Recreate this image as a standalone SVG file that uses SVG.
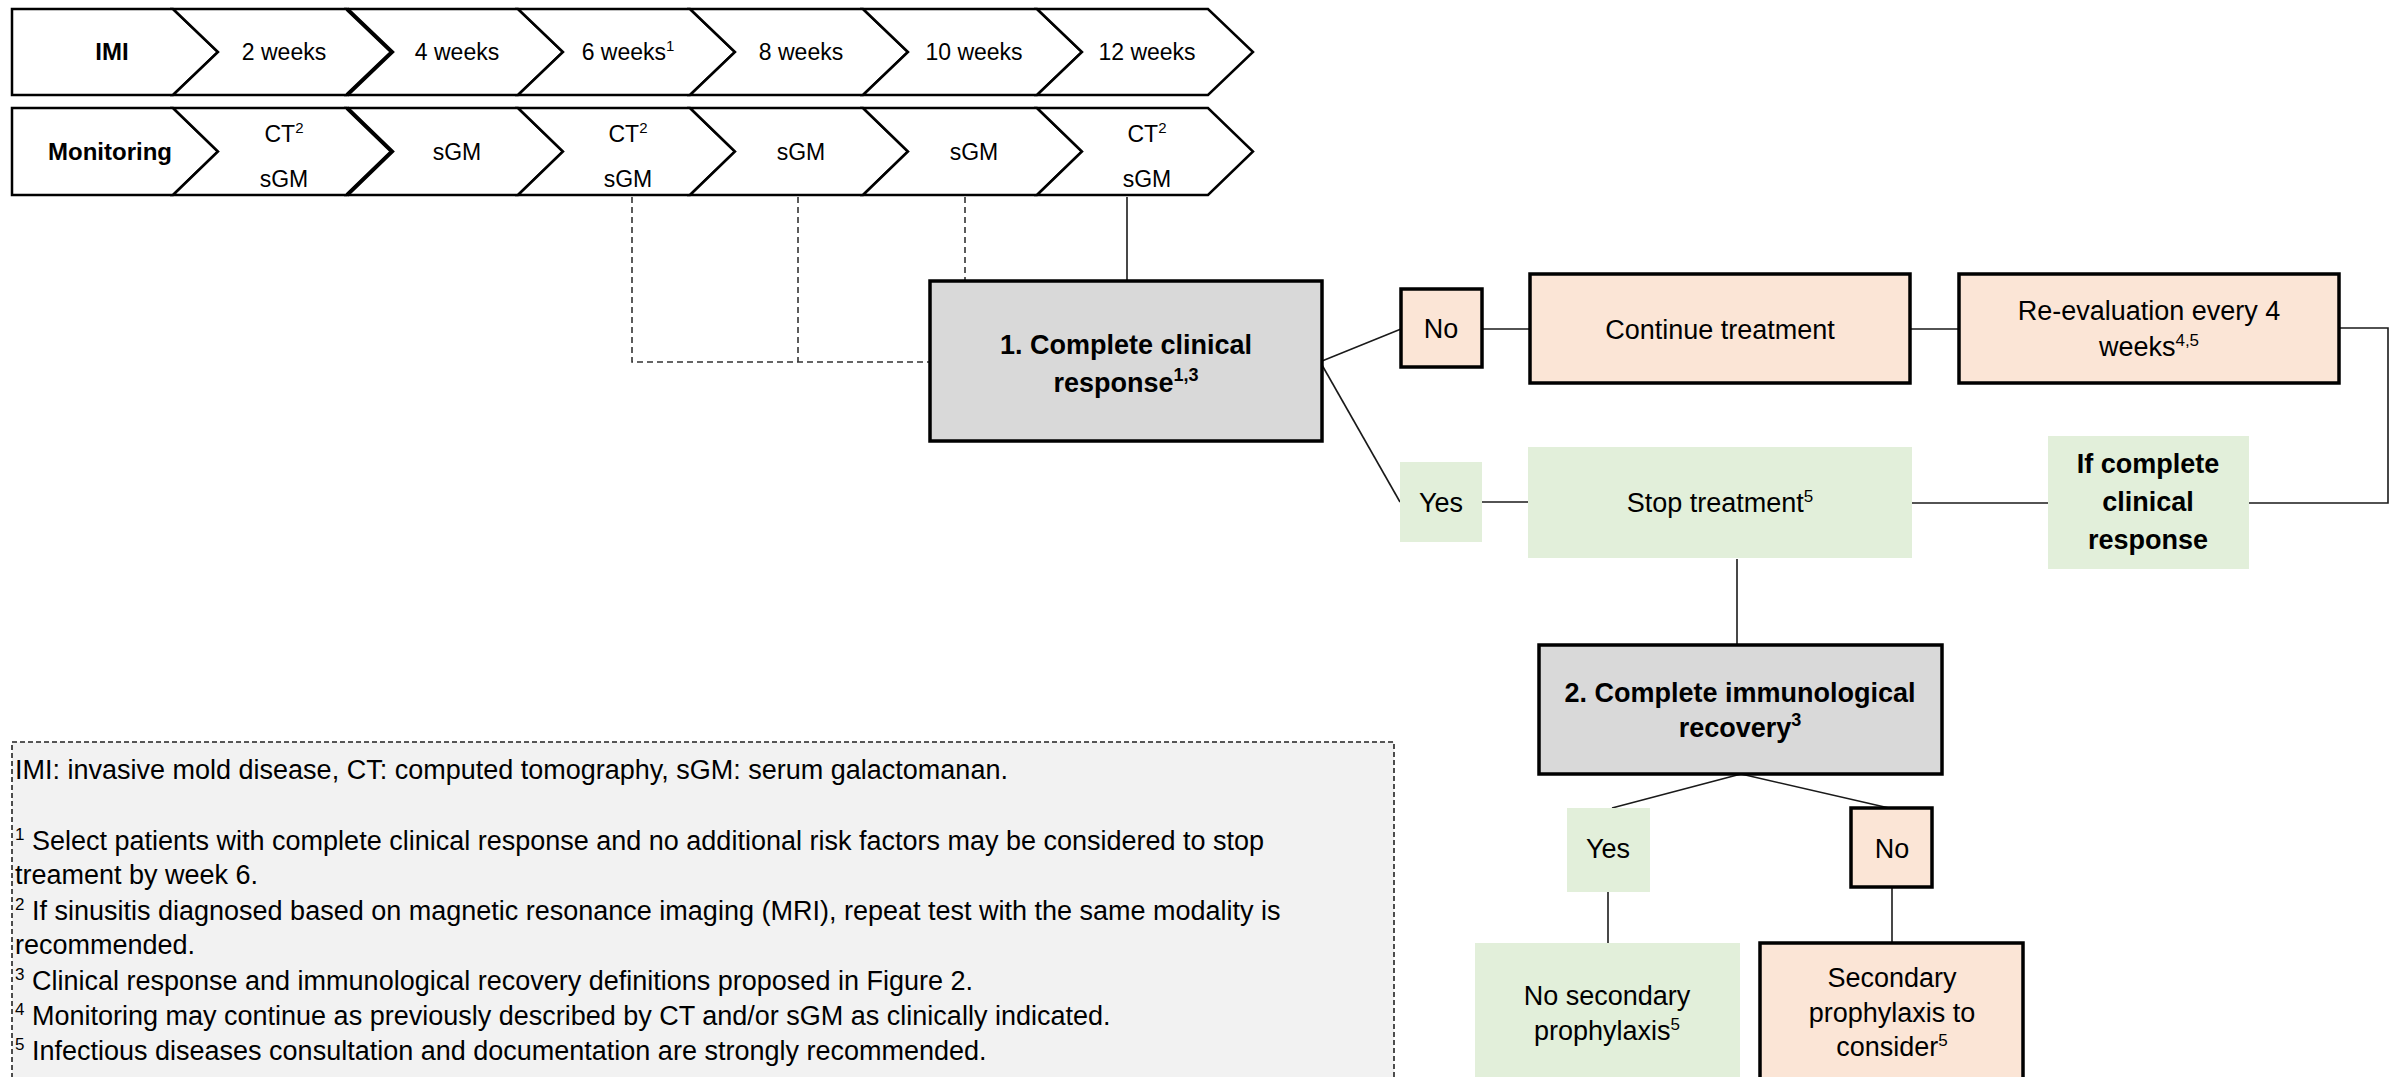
<svg xmlns="http://www.w3.org/2000/svg" width="2394" height="1077" viewBox="0 0 2394 1077">
<style>
text{font-family:"Liberation Sans",Arial,sans-serif;fill:#000;text-anchor:middle}
.chev{fill:#fff;stroke:#000;stroke-width:2.5;stroke-linejoin:miter}
.tl{font-size:23px}
.tb{font-size:24px;font-weight:bold}
.n{font-size:27px}
.nb{font-size:27px;font-weight:bold}
.fn{font-size:27px;text-anchor:start}
.gray{fill:#d9d9d9;stroke:#000;stroke-width:3.5}
.sal{fill:#fbe5d6;stroke:#000;stroke-width:3.5}
.grn{fill:#e2efda}
.con{fill:none;stroke:#1a1a1a;stroke-width:1.6}
.dash{fill:none;stroke:#333;stroke-width:1.6;stroke-dasharray:6 4}
</style>

<g id="timeline-imi">
<path class="chev" d="M12,9 L173,9 L218,52 L173,95 L12,95 Z"/>
<path class="chev" d="M173,9 L347,9 L392,52 L347,95 L173,95 L218,52 Z"/>
<path class="chev" d="M347,9 L518,9 L563,52 L518,95 L347,95 L392,52 Z"/>
<path class="chev" d="M518,9 L690,9 L735,52 L690,95 L518,95 L563,52 Z"/>
<path class="chev" d="M690,9 L863,9 L908,52 L863,95 L690,95 L735,52 Z"/>
<path class="chev" d="M863,9 L1037,9 L1082,52 L1037,95 L863,95 L908,52 Z"/>
<path class="chev" d="M1037,9 L1208,9 L1253,52 L1208,95 L1037,95 L1082,52 Z"/>
<polyline points="347,9 392,52 347,95" fill="none" stroke="#000" stroke-width="4"/>
<text class="tb" x="112" y="60">IMI</text>
<text class="tl" x="284" y="60">2 weeks</text>
<text class="tl" x="457" y="60">4 weeks</text>
<text class="tl" x="628" y="60">6 weeks<tspan font-size="15" dy="-9">1</tspan></text>
<text class="tl" x="801" y="60">8 weeks</text>
<text class="tl" x="974" y="60">10 weeks</text>
<text class="tl" x="1147" y="60">12 weeks</text>
</g>

<g id="timeline-monitoring">
<path class="chev" d="M12,108 L173,108 L218,151.5 L173,195 L12,195 Z"/>
<path class="chev" d="M173,108 L347,108 L392,151.5 L347,195 L173,195 L218,151.5 Z"/>
<path class="chev" d="M347,108 L518,108 L563,151.5 L518,195 L347,195 L392,151.5 Z"/>
<path class="chev" d="M518,108 L690,108 L735,151.5 L690,195 L518,195 L563,151.5 Z"/>
<path class="chev" d="M690,108 L863,108 L908,151.5 L863,195 L690,195 L735,151.5 Z"/>
<path class="chev" d="M863,108 L1037,108 L1082,151.5 L1037,195 L863,195 L908,151.5 Z"/>
<path class="chev" d="M1037,108 L1208,108 L1253,151.5 L1208,195 L1037,195 L1082,151.5 Z"/>
<polyline points="347,108 392,151.5 347,195" fill="none" stroke="#000" stroke-width="4"/>
<text class="tb" x="110" y="160">Monitoring</text>
<text class="tl" x="284" y="142">CT<tspan font-size="15" dy="-9">2</tspan></text>
<text class="tl" x="284" y="187">sGM</text>
<text class="tl" x="457" y="160">sGM</text>
<text class="tl" x="628" y="142">CT<tspan font-size="15" dy="-9">2</tspan></text>
<text class="tl" x="628" y="187">sGM</text>
<text class="tl" x="801" y="160">sGM</text>
<text class="tl" x="974" y="160">sGM</text>
<text class="tl" x="1147" y="142">CT<tspan font-size="15" dy="-9">2</tspan></text>
<text class="tl" x="1147" y="187">sGM</text>
</g>

<g id="connectors">
<path class="dash" d="M632,197 V362 H930"/>
<path class="dash" d="M798,197 V362"/>
<path class="dash" d="M965,197 V281"/>
<path class="con" d="M1127,197 V281"/>
<path class="con" d="M1322,361 L1401,329"/>
<path class="con" d="M1322,365 L1400,502"/>
<path class="con" d="M1482,329 H1530"/>
<path class="con" d="M1910,329 H1959"/>
<path class="con" d="M2339,328 H2388 V503 H2249"/>
<path class="con" d="M1482,502 H1528"/>
<path class="con" d="M1910,503 H2048"/>
<path class="con" d="M1737,559 V645"/>
<path class="con" d="M1741,774 L1612,808"/>
<path class="con" d="M1741,774 L1889,808"/>
<path class="con" d="M1608,892 V943"/>
<path class="con" d="M1892,887 V943"/>
</g>

<g id="clinical-response">
<rect class="gray" x="930" y="281" width="392" height="160"/>
<text class="nb" x="1126" y="354">1. Complete clinical</text>
<text class="nb" x="1126" y="392">response<tspan font-size="18" dy="-11">1,3</tspan></text>
</g>

<g id="no-1">
<rect class="sal" x="1401" y="289" width="81" height="78"/>
<text class="n" x="1441" y="338">No</text>
</g>

<g id="yes-1">
<rect class="grn" x="1400" y="462" width="82" height="80"/>
<text class="n" x="1441" y="512">Yes</text>
</g>

<g id="continue-treatment">
<rect class="sal" x="1530" y="274" width="380" height="109"/>
<text class="n" x="1720" y="339">Continue treatment</text>
</g>

<g id="re-evaluation">
<rect class="sal" x="1959" y="274" width="380" height="109"/>
<text class="n" x="2149" y="320">Re-evaluation every 4</text>
<text class="n" x="2149" y="356">weeks<tspan font-size="17" dy="-10">4,5</tspan></text>
</g>

<g id="stop-treatment">
<rect class="grn" x="1528" y="447" width="384" height="111"/>
<text class="n" x="1720" y="512">Stop treatment<tspan font-size="17" dy="-10">5</tspan></text>
</g>

<g id="if-complete">
<rect class="grn" x="2048" y="436" width="201" height="133"/>
<text class="nb" x="2148" y="473" font-size="28">If complete</text>
<text class="nb" x="2148" y="511" font-size="28">clinical</text>
<text class="nb" x="2148" y="549" font-size="28">response</text>
</g>

<g id="immunological-recovery">
<rect class="gray" x="1539" y="645" width="403" height="129"/>
<text class="nb" x="1740" y="702" font-size="27.5">2. Complete immunological</text>
<text class="nb" x="1740" y="737" font-size="27.5">recovery<tspan font-size="18" dy="-11">3</tspan></text>
</g>

<g id="yes-2">
<rect class="grn" x="1567" y="808" width="83" height="84"/>
<text class="n" x="1608" y="858">Yes</text>
</g>

<g id="no-2">
<rect class="sal" x="1851" y="808" width="81" height="79"/>
<text class="n" x="1892" y="858">No</text>
</g>

<g id="no-secondary">
<rect class="grn" x="1475" y="943" width="265" height="150"/>
<text class="n" x="1607" y="1005">No secondary</text>
<text class="n" x="1607" y="1040">prophylaxis<tspan font-size="17" dy="-10">5</tspan></text>
</g>

<g id="secondary-prophylaxis">
<rect class="sal" x="1760" y="943" width="263" height="150"/>
<text class="n" x="1892" y="987">Secondary</text>
<text class="n" x="1892" y="1022">prophylaxis to</text>
<text class="n" x="1892" y="1056">consider<tspan font-size="17" dy="-10">5</tspan></text>
</g>

<g id="footnotes">
<rect x="12" y="742" width="1382" height="350" fill="#f2f2f2" stroke="#222" stroke-width="1.6" stroke-dasharray="5 3"/>
<text class="fn" x="15" y="779">IMI: invasive mold disease, CT: computed tomography, sGM: serum galactomanan.</text>
<text class="fn" x="15" y="850"><tspan font-size="17" dy="-10">1</tspan><tspan dy="10"> Select patients with complete clinical response and no additional risk factors may be considered to stop</tspan></text>
<text class="fn" x="15" y="884">treament by week 6.</text>
<text class="fn" x="15" y="920"><tspan font-size="17" dy="-10">2</tspan><tspan dy="10">  If sinusitis diagnosed based on magnetic resonance imaging (MRI), repeat test with the same modality is</tspan></text>
<text class="fn" x="15" y="954">recommended.</text>
<text class="fn" x="15" y="990"><tspan font-size="17" dy="-10">3</tspan><tspan dy="10"> Clinical response and immunological recovery definitions proposed in Figure 2.</tspan></text>
<text class="fn" x="15" y="1025"><tspan font-size="17" dy="-10">4</tspan><tspan dy="10">  Monitoring may continue as previously described by CT and/or sGM as clinically indicated.</tspan></text>
<text class="fn" x="15" y="1060"><tspan font-size="17" dy="-10">5</tspan><tspan dy="10"> Infectious diseases consultation and documentation are strongly recommended.</tspan></text>
</g>
</svg>
